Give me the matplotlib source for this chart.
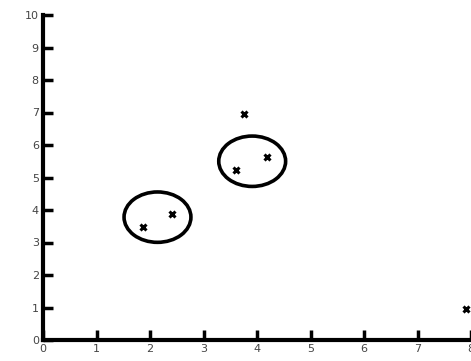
import matplotlib
matplotlib.use("Agg")
import matplotlib.pyplot as plt
from matplotlib.patches import Ellipse

xs = [3.76, 4.19, 3.61, 2.42, 1.86, 7.9]
ys = [6.95, 5.63, 5.23, 3.88, 3.48, 0.95]
circle_x = [2.14, 3.91]
circle_y = [3.78, 5.50]
xticks = list(range(0, 9))
yticks = list(range(0, 11))

fig = plt.figure(figsize=(4.71, 3.61), dpi=100)
ax = fig.add_axes([43/471, 21/361, 1 - 43/471, (340-15)/361])
ax.set_xlim(0, 7.97)
ax.set_ylim(0, 10)

ax.plot(xs, ys, linestyle='none', marker='x', color='black', markersize=5, mew=2.2, clip_on=False)
for cx, cy in zip(circle_x, circle_y):
    ax.add_patch(Ellipse((cx, cy), width=1.25, height=1.55, fill=False, edgecolor='black', linewidth=2.6))

for s in ['top', 'right']:
    ax.spines[s].set_visible(False)
for s in ['left', 'bottom']:
    ax.spines[s].set_linewidth(3)
ax.set_xticks(xticks)
ax.set_yticks(yticks)
ax.tick_params(direction='in', length=7, width=2.5, labelsize=8, labelcolor='#444444', pad=3)
fig.savefig("out.png", dpi=100)
